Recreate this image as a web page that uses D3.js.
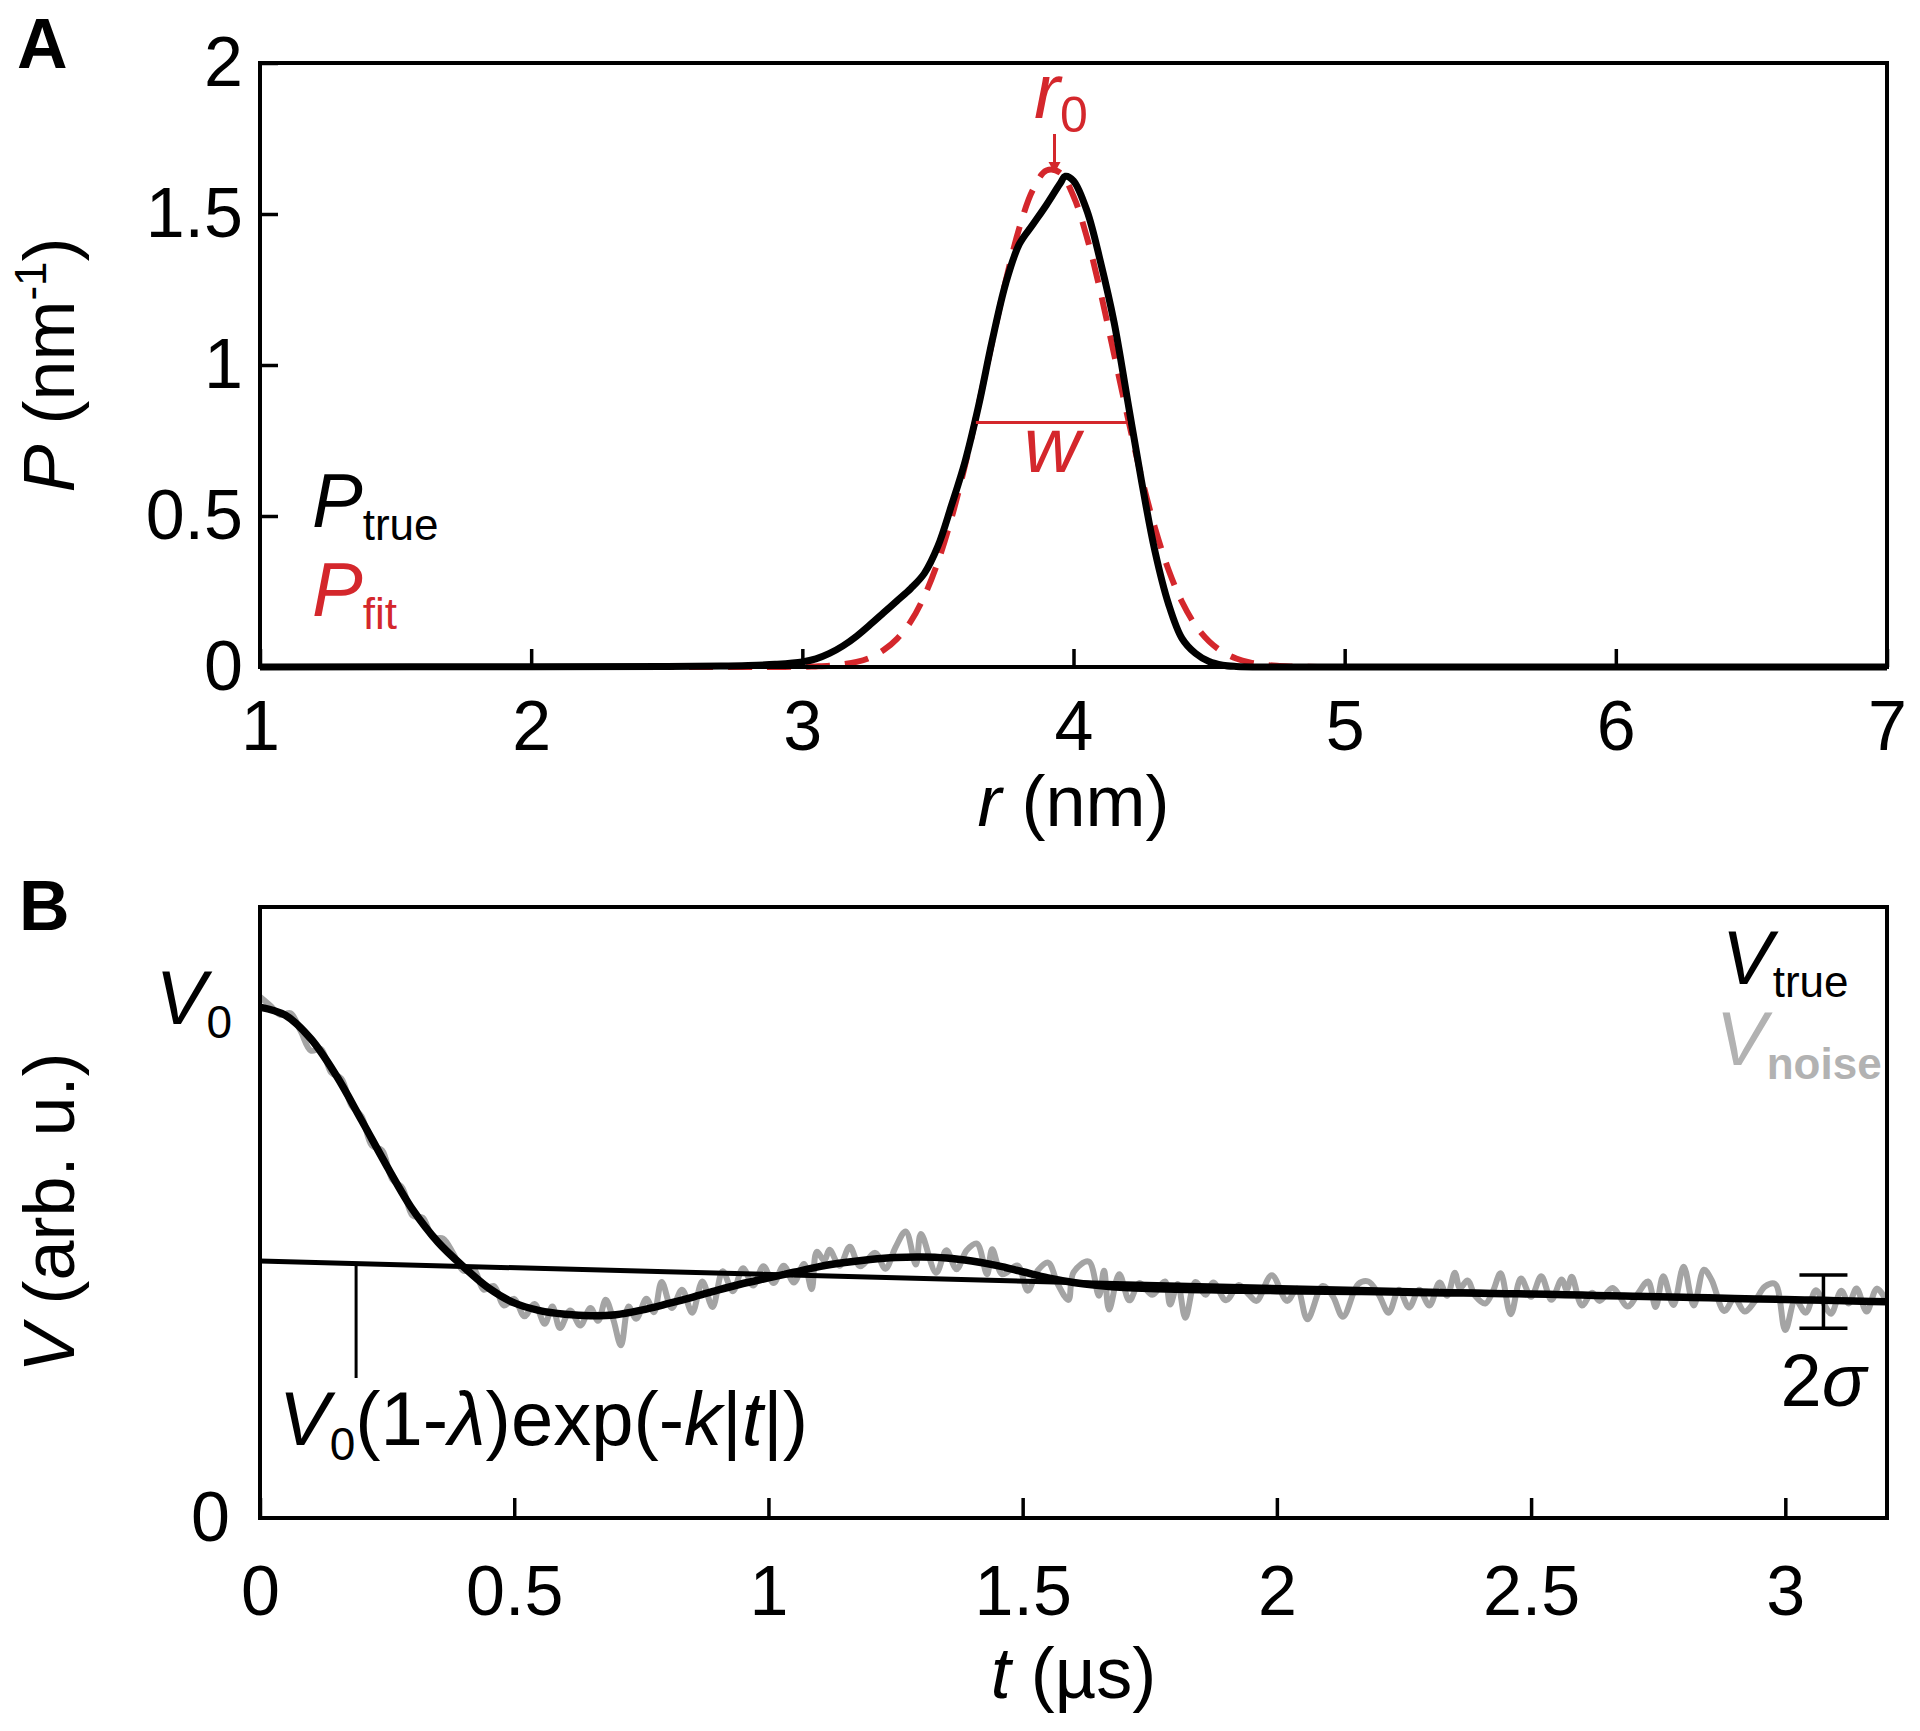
<!DOCTYPE html>
<html><head><meta charset="utf-8">
<script src="https://cdn.jsdelivr.net/npm/d3@7"></script>
<style>
html,body{margin:0;padding:0;background:#fff;}
svg{display:block;}
</style></head><body>
<svg id="chart" width="1920" height="1731"></svg>
<script>
// ---------------- Panel A data ----------------
const rTicks = [1, 2, 3, 4, 5, 6, 7];
const pTicks = [0, 0.5, 1, 1.5, 2];
const pR = [1, 2, 2.5, 2.7, 2.8, 2.9, 3.0, 3.05, 3.1, 3.15, 3.2, 3.25, 3.3, 3.35, 3.4, 3.45, 3.5, 3.55, 3.6, 3.65, 3.7, 3.75, 3.8, 3.85, 3.9, 3.95, 3.97, 4.0, 4.05, 4.1, 4.15, 4.2, 4.25, 4.3, 4.35, 4.4, 4.45, 4.5, 4.55, 4.6, 4.7, 5, 6, 7];
const pTrue = [0, 0.001, 0.002, 0.003, 0.005, 0.009, 0.017, 0.027, 0.045, 0.07, 0.102, 0.14, 0.18, 0.22, 0.26, 0.31, 0.40, 0.535, 0.68, 0.865, 1.08, 1.27, 1.4, 1.465, 1.53, 1.6, 1.625, 1.61, 1.51, 1.34, 1.14, 0.88, 0.62, 0.385, 0.21, 0.095, 0.045, 0.018, 0.006, 0.002, 0, 0, 0, 0];
const fitR = [1, 2.5, 2.8, 2.9, 3.0, 3.05, 3.1, 3.15, 3.2, 3.25, 3.3, 3.35, 3.4, 3.45, 3.5, 3.55, 3.6, 3.65, 3.7, 3.75, 3.8, 3.85, 3.9, 3.95, 4.0, 4.05, 4.1, 4.15, 4.2, 4.25, 4.3, 4.35, 4.4, 4.45, 4.5, 4.55, 4.6, 4.65, 4.7, 4.75, 4.8, 4.9, 5.0, 7];
const pFit = [0, 0, 0, 0, 0.001, 0.002, 0.004, 0.009, 0.017, 0.031, 0.056, 0.094, 0.151, 0.235, 0.348, 0.493, 0.668, 0.867, 1.076, 1.278, 1.453, 1.580, 1.644, 1.637, 1.559, 1.421, 1.240, 1.034, 0.827, 0.631, 0.462, 0.323, 0.216, 0.138, 0.085, 0.050, 0.028, 0.015, 0.008, 0.004, 0.002, 0, 0, 0];
const r0 = 3.93;
const wLeft = 3.64, wRight = 4.20, wLevel = 0.81;

// ---------------- Panel B data ----------------
const tTicks = [0, 0.5, 1, 1.5, 2, 2.5, 3];
const tGrid = [0, 0.05, 0.1, 0.15, 0.2, 0.25, 0.3, 0.35, 0.4, 0.45, 0.5, 0.55, 0.6, 0.65, 0.7, 0.75, 0.8, 0.85, 0.9, 0.95, 1.0, 1.05, 1.1, 1.15, 1.2, 1.25, 1.3, 1.35, 1.4, 1.45, 1.5, 1.55, 1.6, 1.65, 1.7, 1.75, 1.8, 1.85, 1.9, 1.95, 2.0, 2.05, 2.1, 2.15, 2.2, 2.25, 2.3, 2.35, 2.4, 2.45, 2.5, 2.55, 2.6, 2.65, 2.7, 2.75, 2.8, 2.85, 2.9, 2.95, 3.0, 3.05, 3.1, 3.15, 3.2];
const vTrue = [1.000, 0.984, 0.938, 0.866, 0.778, 0.688, 0.604, 0.540, 0.492, 0.450, 0.421, 0.406, 0.399, 0.396, 0.398, 0.407, 0.419, 0.432, 0.446, 0.459, 0.470, 0.481, 0.492, 0.500, 0.506, 0.510, 0.511, 0.509, 0.503, 0.494, 0.482, 0.470, 0.461, 0.455, 0.451, 0.449, 0.448, 0.447, 0.446, 0.4455, 0.445, 0.4445, 0.444, 0.4435, 0.443, 0.442, 0.441, 0.4405, 0.440, 0.439, 0.4385, 0.4375, 0.4365, 0.435, 0.434, 0.433, 0.432, 0.431, 0.4297, 0.4287, 0.4276, 0.4265, 0.4255, 0.4244, 0.4233];
const bgT = [0, 0.8, 1.6, 2.4, 3.2];
const vBackground = [0.503, 0.482, 0.461, 0.442, 0.423];
const noiseT = [0.000, 0.020, 0.040, 0.060, 0.080, 0.100, 0.120, 0.140, 0.160, 0.180, 0.200, 0.220, 0.240, 0.260, 0.280, 0.300, 0.320, 0.340, 0.360, 0.380, 0.400, 0.420, 0.440, 0.460, 0.480, 0.500, 0.520, 0.540, 0.560, 0.575, 0.590, 0.610, 0.630, 0.650, 0.665, 0.680, 0.695, 0.710, 0.725, 0.740, 0.760, 0.775, 0.790, 0.810, 0.830, 0.850, 0.870, 0.890, 0.910, 0.930, 0.950, 0.970, 0.990, 1.010, 1.030, 1.050, 1.070, 1.085, 1.095, 1.110, 1.120, 1.140, 1.160, 1.180, 1.210, 1.230, 1.250, 1.270, 1.290, 1.300, 1.330, 1.350, 1.370, 1.390, 1.410, 1.430, 1.440, 1.460, 1.490, 1.510, 1.530, 1.550, 1.570, 1.590, 1.600, 1.630, 1.650, 1.660, 1.670, 1.690, 1.710, 1.730, 1.755, 1.780, 1.790, 1.805, 1.820, 1.840, 1.860, 1.875, 1.900, 1.925, 1.945, 1.960, 1.990, 2.020, 2.040, 2.060, 2.090, 2.110, 2.130, 2.160, 2.180, 2.200, 2.220, 2.240, 2.260, 2.280, 2.300, 2.320, 2.335, 2.350, 2.360, 2.375, 2.390, 2.410, 2.425, 2.440, 2.460, 2.480, 2.500, 2.520, 2.540, 2.560, 2.570, 2.580, 2.600, 2.620, 2.635, 2.660, 2.690, 2.710, 2.730, 2.745, 2.760, 2.780, 2.800, 2.820, 2.840, 2.855, 2.880, 2.900, 2.920, 2.940, 2.960, 2.980, 3.000, 3.020, 3.040, 3.060, 3.075, 3.090, 3.110, 3.125, 3.140, 3.160, 3.180, 3.200];
const vNoise = [1.020, 1.003, 0.985, 0.988, 0.953, 0.915, 0.918, 0.872, 0.860, 0.807, 0.786, 0.729, 0.720, 0.663, 0.646, 0.592, 0.588, 0.549, 0.547, 0.518, 0.484, 0.488, 0.447, 0.454, 0.416, 0.429, 0.395, 0.419, 0.380, 0.414, 0.372, 0.406, 0.377, 0.411, 0.386, 0.427, 0.388, 0.338, 0.414, 0.390, 0.429, 0.403, 0.462, 0.411, 0.447, 0.402, 0.463, 0.413, 0.483, 0.444, 0.489, 0.455, 0.493, 0.460, 0.494, 0.461, 0.497, 0.448, 0.521, 0.504, 0.525, 0.494, 0.531, 0.493, 0.519, 0.488, 0.530, 0.561, 0.496, 0.556, 0.480, 0.524, 0.487, 0.524, 0.537, 0.477, 0.526, 0.477, 0.494, 0.445, 0.485, 0.500, 0.456, 0.427, 0.481, 0.502, 0.435, 0.484, 0.408, 0.477, 0.426, 0.460, 0.437, 0.463, 0.418, 0.458, 0.392, 0.462, 0.437, 0.461, 0.426, 0.456, 0.437, 0.425, 0.475, 0.425, 0.449, 0.389, 0.454, 0.434, 0.394, 0.458, 0.463, 0.438, 0.402, 0.447, 0.412, 0.447, 0.416, 0.461, 0.435, 0.480, 0.450, 0.465, 0.435, 0.420, 0.444, 0.479, 0.399, 0.469, 0.433, 0.473, 0.427, 0.467, 0.447, 0.472, 0.416, 0.441, 0.425, 0.450, 0.414, 0.439, 0.463, 0.413, 0.473, 0.417, 0.492, 0.416, 0.486, 0.466, 0.405, 0.430, 0.404, 0.424, 0.453, 0.458, 0.368, 0.427, 0.402, 0.446, 0.421, 0.400, 0.445, 0.420, 0.449, 0.404, 0.449, 0.423];
const annotT = 0.189, annotTopV = 0.498, annotBottomV = 0.274;
const errT = 3.075, errCenter = 0.4235, errSigma = 0.052;

// ---------------- Drawing ----------------
const FONT = '"Liberation Sans", Arial, Helvetica, sans-serif';
const RED = "#d4272c";
const GRAY_LINE = "#a4a4a4";
const GRAY_TEXT = "#b2b2b2";
const svg = d3.select("#chart").attr("font-family", FONT);
svg.append("rect").attr("width", 1920).attr("height", 1731).attr("fill", "#fff");

const A = {left: 260, right: 1887, top: 63, bottom: 667};
const B = {left: 260, right: 1887, top: 907, bottom: 1518};
const xA = d3.scaleLinear().domain([1, 7]).range([A.left, A.right]);
const yA = d3.scaleLinear().domain([0, 2]).range([A.bottom, A.top]);
const xB = d3.scaleLinear().domain([0, 3.2]).range([B.left, B.right]);
const yB = d3.scaleLinear().domain([0, 1.196]).range([B.bottom, B.top]);

function styleAxis(g, size) {
  g.attr("font-family", FONT).attr("font-size", size);
  g.select(".domain").remove();
  g.selectAll(".tick line").attr("stroke", "#000").attr("stroke-width", 3.5);
  g.selectAll(".tick text").attr("fill", "#000");
}

const defs = svg.append("defs");
defs.append("clipPath").attr("id", "clipA").append("rect")
  .attr("x", A.left).attr("y", A.top - 2).attr("width", A.right - A.left).attr("height", A.bottom - A.top + 10);
defs.append("clipPath").attr("id", "clipB").append("rect")
  .attr("x", B.left).attr("y", B.top).attr("width", B.right - B.left).attr("height", B.bottom - B.top);

// ===== Panel A =====
const gA = svg.append("g");
const axA_x = gA.append("g").attr("transform", `translate(0,${A.bottom})`)
  .call(d3.axisBottom(xA).tickValues(rTicks).tickSize(-18).tickPadding(33).tickFormat(d3.format("~g")));
styleAxis(axA_x, 70);
const axA_y = gA.append("g").attr("transform", `translate(${A.left},0)`)
  .call(d3.axisLeft(yA).tickValues(pTicks).tickSize(-18).tickPadding(17).tickFormat(d3.format("~g")));
styleAxis(axA_y, 70);

const lineA = d3.line().curve(d3.curveCatmullRom.alpha(0.5));
const plotA = gA.append("g").attr("clip-path", "url(#clipA)");
plotA.append("path")
  .attr("d", lineA(fitR.map((r, i) => [xA(r), yA(pFit[i])])))
  .attr("fill", "none").attr("stroke", RED).attr("stroke-width", 6)
  .attr("stroke-dasharray", "24,15");
plotA.append("path")
  .attr("d", lineA(pR.map((r, i) => [xA(r), yA(pTrue[i])])))
  .attr("fill", "none").attr("stroke", "#000").attr("stroke-width", 7)
  .attr("stroke-linejoin", "round");

// w line
gA.append("line")
  .attr("x1", xA(wLeft)).attr("x2", xA(wRight)).attr("y1", yA(wLevel)).attr("y2", yA(wLevel))
  .attr("stroke", RED).attr("stroke-width", 3);
gA.append("text").attr("x", (xA(wLeft) + xA(wRight)) / 2).attr("y", 472)
  .attr("text-anchor", "middle").attr("font-size", 78).attr("font-style", "italic")
  .attr("fill", RED).text("w");

// r0 arrow
const xr0 = xA(r0);
gA.append("line").attr("x1", xr0).attr("x2", xr0).attr("y1", 134).attr("y2", 166)
  .attr("stroke", RED).attr("stroke-width", 3);
gA.append("path").attr("d", `M${xr0 - 6},162 L${xr0 + 6},162 L${xr0},173 Z`).attr("fill", RED);
const r0t = gA.append("text").attr("x", 1034).attr("y", 118).attr("fill", RED);
r0t.append("tspan").attr("font-size", 78).attr("font-style", "italic").text("r");
r0t.append("tspan").attr("font-size", 50).attr("dy", 14).text("0");

// frame A
gA.append("rect").attr("x", A.left).attr("y", A.top).attr("width", A.right - A.left).attr("height", A.bottom - A.top)
  .attr("fill", "none").attr("stroke", "#000").attr("stroke-width", 4);

// legend A
const lgA1 = gA.append("text").attr("x", 312).attr("y", 527).attr("fill", "#000");
lgA1.append("tspan").attr("font-size", 76).attr("font-style", "italic").text("P");
lgA1.append("tspan").attr("font-size", 44).attr("dy", 13).text("true");
const lgA2 = gA.append("text").attr("x", 312).attr("y", 616).attr("fill", RED);
lgA2.append("tspan").attr("font-size", 76).attr("font-style", "italic").text("P");
lgA2.append("tspan").attr("font-size", 44).attr("dy", 13).text("fit");

// axis titles A
const xtA = gA.append("text").attr("x", (A.left + A.right) / 2).attr("y", 826)
  .attr("text-anchor", "middle").attr("font-size", 72);
xtA.append("tspan").attr("font-style", "italic").text("r");
xtA.append("tspan").text(" (nm)");
const ytA = gA.append("text").attr("transform", `translate(74,${(A.top + A.bottom) / 2}) rotate(-90)`)
  .attr("text-anchor", "middle").attr("font-size", 72);
ytA.append("tspan").attr("font-style", "italic").text("P");
ytA.append("tspan").text(" (nm");
ytA.append("tspan").attr("font-size", 44).attr("dy", -28).text("-1");
ytA.append("tspan").attr("dy", 28).text(")");

gA.append("text").attr("x", 17).attr("y", 68).attr("font-size", 70).attr("font-weight", "bold").text("A");

// ===== Panel B =====
const gB = svg.append("g");
const axB_x = gB.append("g").attr("transform", `translate(0,${B.bottom})`)
  .call(d3.axisBottom(xB).tickValues(tTicks).tickSize(-20).tickPadding(47).tickFormat(d3.format("~g")));
styleAxis(axB_x, 70);
const axB_y = gB.append("g").attr("transform", `translate(${B.left},0)`)
  .call(d3.axisLeft(yB).tickValues([0]).tickSize(0).tickPadding(30).tickFormat(d3.format("~g")));
styleAxis(axB_y, 70);

const plotB = gB.append("g").attr("clip-path", "url(#clipB)");
plotB.append("path")
  .attr("d", d3.line().curve(d3.curveCatmullRom.alpha(0.5))(noiseT.map((t, i) => [xB(t), yB(vNoise[i])])))
  .attr("fill", "none").attr("stroke", GRAY_LINE).attr("stroke-width", 6).attr("stroke-linejoin", "round");
plotB.append("path")
  .attr("d", d3.line().curve(d3.curveMonotoneX)(bgT.map((t, i) => [xB(t), yB(vBackground[i])])))
  .attr("fill", "none").attr("stroke", "#000").attr("stroke-width", 5);
plotB.append("path")
  .attr("d", d3.line().curve(d3.curveCatmullRom.alpha(0.5))(tGrid.map((t, i) => [xB(t), yB(vTrue[i])])))
  .attr("fill", "none").attr("stroke", "#000").attr("stroke-width", 7.5).attr("stroke-linejoin", "round");

// annotation line
gB.append("line").attr("x1", xB(annotT)).attr("x2", xB(annotT))
  .attr("y1", yB(annotTopV)).attr("y2", yB(annotBottomV))
  .attr("stroke", "#000").attr("stroke-width", 3);

// error bar
const ex = xB(errT);
const ey1 = yB(errCenter + errSigma), ey2 = yB(errCenter - errSigma);
gB.append("line").attr("x1", ex).attr("x2", ex).attr("y1", ey1).attr("y2", ey2).attr("stroke", "#000").attr("stroke-width", 3.5);
gB.append("line").attr("x1", ex - 24).attr("x2", ex + 24).attr("y1", ey1).attr("y2", ey1).attr("stroke", "#000").attr("stroke-width", 3.5);
gB.append("line").attr("x1", ex - 24).attr("x2", ex + 24).attr("y1", ey2).attr("y2", ey2).attr("stroke", "#000").attr("stroke-width", 3.5);
const sg = gB.append("text").attr("x", ex).attr("y", 1406).attr("text-anchor", "middle").attr("font-size", 74);
sg.append("tspan").text("2");
sg.append("tspan").attr("font-style", "italic").text("σ");

// frame B
gB.append("rect").attr("x", B.left).attr("y", B.top).attr("width", B.right - B.left).attr("height", B.bottom - B.top)
  .attr("fill", "none").attr("stroke", "#000").attr("stroke-width", 4);

// V0 label
const v0 = gB.append("text").attr("x", 232).attr("y", 1024).attr("text-anchor", "end");
v0.append("tspan").attr("font-size", 76).attr("font-style", "italic").text("V");
v0.append("tspan").attr("font-size", 46).attr("dy", 14).text("0");

// annotation text
const an = gB.append("text").attr("x", 279).attr("y", 1445).attr("font-size", 76);
an.append("tspan").attr("font-style", "italic").text("V");
an.append("tspan").attr("font-size", 46).attr("dy", 15).text("0");
an.append("tspan").attr("dy", -15).text("(1-");
an.append("tspan").attr("font-style", "italic").text("λ");
an.append("tspan").text(")exp(-");
an.append("tspan").attr("font-style", "italic").text("k");
an.append("tspan").text("|");
an.append("tspan").attr("font-style", "italic").text("t");
an.append("tspan").text("|)");

// legend B
const lgB1 = gB.append("text").attr("x", 1722).attr("y", 984).attr("fill", "#000");
lgB1.append("tspan").attr("font-size", 76).attr("font-style", "italic").text("V");
lgB1.append("tspan").attr("font-size", 44).attr("dy", 13).text("true");
const lgB2 = gB.append("text").attr("x", 1716).attr("y", 1065).attr("fill", GRAY_TEXT);
lgB2.append("tspan").attr("font-size", 76).attr("font-style", "italic").text("V");
lgB2.append("tspan").attr("font-size", 44).attr("dy", 14).attr("font-weight", "bold").text("noise");

// axis titles B
const xtB = gB.append("text").attr("x", (B.left + B.right) / 2).attr("y", 1698)
  .attr("text-anchor", "middle").attr("font-size", 72);
xtB.append("tspan").attr("font-style", "italic").text("t");
xtB.append("tspan").text(" (µs)");
const ytB = gB.append("text").attr("transform", `translate(74,${(B.top + B.bottom) / 2}) rotate(-90)`)
  .attr("text-anchor", "middle").attr("font-size", 72);
ytB.append("tspan").attr("font-style", "italic").text("V");
ytB.append("tspan").text(" (arb. u.)");

gB.append("text").attr("x", 19).attr("y", 930).attr("font-size", 70).attr("font-weight", "bold").text("B");
</script>
</body></html>
